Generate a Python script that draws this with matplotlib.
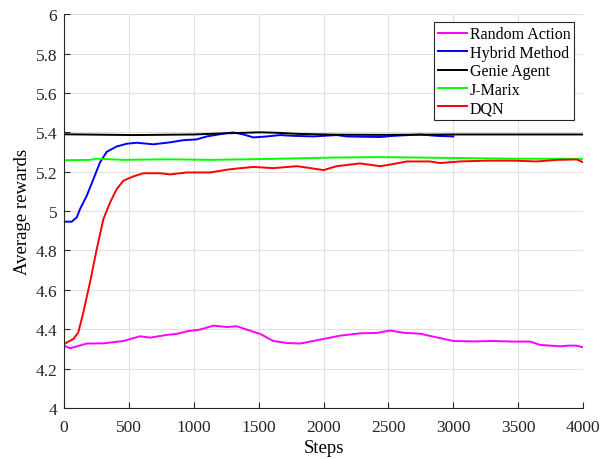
import matplotlib
matplotlib.use("Agg")
import matplotlib.pyplot as plt
from matplotlib.ticker import FuncFormatter

plt.rcParams['font.family'] = ['Liberation Serif', 'DejaVu Serif']

# Random Action
ra_x = [0, 46, 175, 303, 457, 586, 663, 791, 868, 945, 1048, 1151, 1254, 1331, 1408, 1511,
        1613, 1716, 1819, 1973, 2127, 2281, 2410, 2513, 2615, 2744, 2846, 3000, 3155, 3309,
        3463, 3591, 3669, 3823, 3900, 3951, 4000]
ra_y = [4.316, 4.303, 4.327, 4.328, 4.340, 4.364, 4.357, 4.371, 4.376, 4.389, 4.398, 4.418,
        4.411, 4.415, 4.398, 4.376, 4.340, 4.330, 4.327, 4.347, 4.367, 4.379, 4.381, 4.393,
        4.382, 4.377, 4.362, 4.340, 4.338, 4.340, 4.337, 4.337, 4.320, 4.313, 4.317, 4.316, 4.308]

# Hybrid Method
hm_x = [0, 59, 98, 123, 175, 226, 277, 329, 406, 483, 560, 688, 817, 919, 1022, 1100, 1254,
        1305, 1382, 1459, 1562, 1665, 1768, 1921, 2101, 2179, 2435, 2538, 2744, 2872, 3000]
hm_y = [4.946, 4.946, 4.968, 5.010, 5.078, 5.162, 5.247, 5.301, 5.328, 5.342, 5.347, 5.339,
        5.349, 5.360, 5.364, 5.379, 5.396, 5.399, 5.389, 5.374, 5.379, 5.386, 5.382, 5.379,
        5.386, 5.379, 5.376, 5.382, 5.389, 5.382, 5.379]

# Genie Agent
ga_x = [0, 535, 1000, 1203, 1511, 1665, 1800, 2101, 2435, 3000, 3500, 4000]
ga_y = [5.390, 5.386, 5.389, 5.394, 5.400, 5.397, 5.392, 5.388, 5.387, 5.389, 5.389, 5.389]

# J-Marix
jm_x = [0, 200, 252, 457, 800, 1125, 1511, 2101, 2435, 2950, 3463, 4000]
jm_y = [5.258, 5.260, 5.266, 5.260, 5.263, 5.260, 5.264, 5.272, 5.274, 5.270, 5.266, 5.265]

# DQN
dq_x = [0, 72, 110, 149, 200, 252, 303, 355, 406, 457, 534, 611, 740, 817, 945, 1125, 1254,
        1331, 1459, 1613, 1793, 1921, 1999, 2101, 2281, 2435, 2513, 2641, 2821, 2898, 3052,
        3258, 3463, 3643, 3797, 3951, 4000]
dq_y = [4.325, 4.350, 4.384, 4.486, 4.638, 4.807, 4.959, 5.044, 5.112, 5.154, 5.176, 5.192,
        5.192, 5.186, 5.196, 5.196, 5.210, 5.216, 5.224, 5.218, 5.228, 5.216, 5.208, 5.228,
        5.242, 5.228, 5.236, 5.252, 5.252, 5.244, 5.252, 5.256, 5.256, 5.252, 5.260, 5.262, 5.248]

fig = plt.figure(figsize=(6.1, 4.6), dpi=100)
ax = fig.add_axes([0.105, 0.111, 0.851, 0.856])

lw = 1.4
ax.plot(ra_x, ra_y, color='#ff00ff', lw=lw, label='Random Action')
ax.plot(hm_x, hm_y, color='#0000ff', lw=lw, label='Hybrid Method')
ax.plot(ga_x, ga_y, color='black', lw=lw, label='Genie Agent')
ax.plot(jm_x, jm_y, color='#00ff00', lw=lw, label='J-Marix')
ax.plot(dq_x, dq_y, color='#ff0000', lw=lw, label='DQN')

ax.set_xlim(0, 4000)
ax.set_ylim(4, 6)
ax.set_xticks(range(0, 4001, 500))
ax.set_yticks([4 + 0.2 * i for i in range(11)])
ax.yaxis.set_major_formatter(FuncFormatter(lambda v, p: ('%g' % round(v, 1))))
ax.grid(True, color='#e0e0e0', lw=0.8)
ax.set_axisbelow(True)
for s in ['top', 'right']:
    ax.spines[s].set_visible(False)
for s in ['left', 'bottom']:
    ax.spines[s].set_color('#262626')
    ax.spines[s].set_linewidth(0.8)
ax.tick_params(direction='in', length=4, labelsize=12.5, colors='#262626', labelcolor='#262626')
ax.tick_params(axis='x', pad=8)
ax.tick_params(axis='y', pad=5)
ax.set_xlabel('Steps', fontsize=13.5, labelpad=3)
ax.set_ylabel('Average rewards', fontsize=13.5, labelpad=3)

leg = ax.legend(loc='upper right', bbox_to_anchor=(0.983, 0.979), fontsize=11.5,
                handlelength=1.8, handletextpad=0.15, labelspacing=0.15, borderpad=0.25,
                borderaxespad=0.0, fancybox=False, framealpha=1, edgecolor='#262626')
leg.get_frame().set_linewidth(0.8)

fig.savefig('out.png', dpi=100)
